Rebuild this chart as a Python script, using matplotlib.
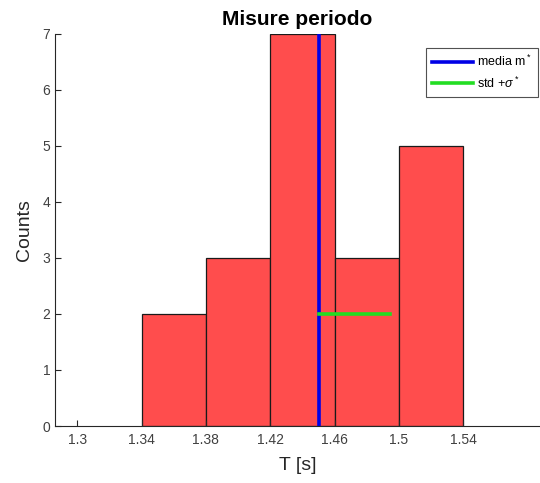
import numpy as np
import matplotlib
matplotlib.use("Agg")
from matplotlib import pyplot as plt

plt.rcParams['font.family'] = ['Liberation Sans', 'DejaVu Sans']
plt.rcParams['mathtext.fontset'] = 'custom'
plt.rcParams['mathtext.rm'] = 'Liberation Sans'
plt.rcParams['mathtext.it'] = 'Liberation Sans:italic'

# bins of the histogram and their counts
edges = [1.34, 1.38, 1.42, 1.46, 1.50, 1.54]
counts = [2, 3, 7, 3, 5]
xticks = [1.3, 1.34, 1.38, 1.42, 1.46, 1.5, 1.54]
mean_T = 1.4503
std_T = 0.0441
std_y = 2

fig = plt.figure(figsize=(5.4, 4.83), dpi=100)
ax = fig.add_axes([0.102, 0.118, 0.898, 0.812])

centers = [(a + b) / 2 for a, b in zip(edges[:-1], edges[1:])]
ax.hist(centers, bins=edges, weights=counts, color='#ff4d4d',
        edgecolor='#1a1a1a', linewidth=0.9)
ax.axvline(mean_T, color='#0000e6', linewidth=2.6, label='media m$^*$')
ax.plot([mean_T, mean_T + std_T], [std_y, std_y], color='#22dd22',
        linewidth=2.6, label='std +$\\sigma^*$')

ax.set_xlim(1.2863, 1.5876)
ax.set_ylim(0, 7)
ax.set_xticks(xticks)
ax.set_xticklabels(['1.3', '1.34', '1.38', '1.42', '1.46', '1.5', '1.54'])
ax.set_yticks(range(8))
ax.tick_params(direction='in', length=4, width=0.8, labelsize=10,
               labelcolor='#404040', color='#262626')
ax.tick_params(axis='x', pad=5)
for s in ['top', 'right']:
    ax.spines[s].set_visible(False)
for s in ['left', 'bottom']:
    ax.spines[s].set_color('#262626')
    ax.spines[s].set_linewidth(0.8)

ax.set_title('Misure periodo', fontsize=15, fontweight='bold', pad=6)
ax.set_xlabel('T [s]', fontsize=14, color='#262626', labelpad=7)
ax.set_ylabel('Counts', fontsize=14, color='#262626', labelpad=7)

leg = ax.legend(loc='upper right', bbox_to_anchor=(0.995, 0.964), fontsize=9,
                frameon=True, fancybox=False, handlelength=3.3,
                handletextpad=0.25, borderpad=0.5, labelspacing=0.5,
                borderaxespad=0)
leg.get_frame().set_edgecolor('#262626')
leg.get_frame().set_linewidth(0.8)

fig.savefig('out.png', dpi=100)
